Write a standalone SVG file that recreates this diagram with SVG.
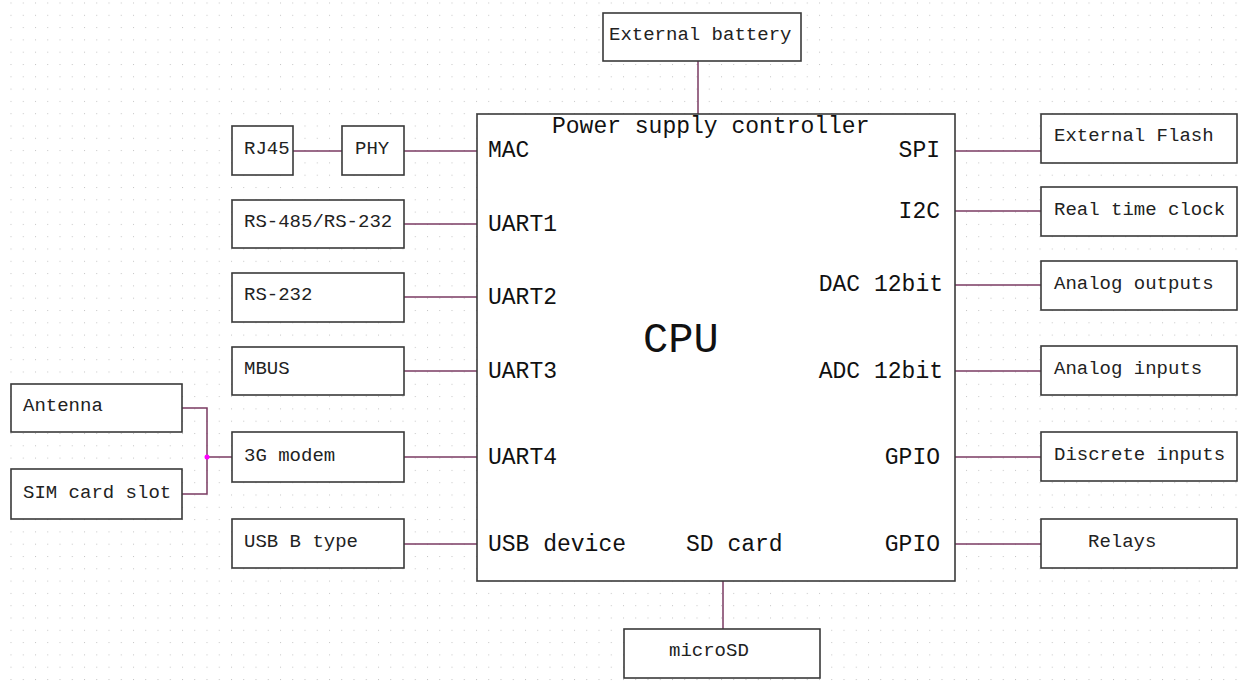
<svg xmlns="http://www.w3.org/2000/svg" width="1242" height="681" viewBox="0 0 1242 681">
<style>
.box{fill:#fff;stroke:#3a3a3a;stroke-width:1.6}
.t{font-family:"Liberation Mono","Courier New",monospace;font-size:19px;fill:#222}
.c{font-family:"Liberation Mono","Courier New",monospace;font-size:23px;fill:#111}
.big{font-family:"Liberation Mono","Courier New",monospace;font-size:42px;fill:#111}
.w{fill:none;stroke:#7a3a62;stroke-width:1.5}
</style>
<defs>
<pattern id="grid" x="10.5" y="2.5" width="12.25" height="12.3" patternUnits="userSpaceOnUse">
<rect width="1" height="1" fill="#c4c4c4"/>
</pattern>
</defs>
<rect width="1242" height="681" fill="#fff"/>
<rect width="1242" height="681" fill="url(#grid)"/>
<g id="connectors">
<path class="w" d="M698 61V114"/>
<path class="w" d="M723 581V629"/>
<path class="w" d="M293 151H342"/>
<path class="w" d="M404 151H477"/>
<path class="w" d="M404 224H477"/>
<path class="w" d="M404 297H477"/>
<path class="w" d="M404 371H477"/>
<path class="w" d="M404 457H477"/>
<path class="w" d="M404 544H477"/>
<path class="w" d="M182 408H207V494H182"/>
<path class="w" d="M207 457H232"/>
<circle cx="207" cy="457" r="2.5" fill="#ff00ff"/>
<path class="w" d="M955 151H1041"/>
<path class="w" d="M955 211H1041"/>
<path class="w" d="M955 285H1041"/>
<path class="w" d="M955 371H1041"/>
<path class="w" d="M955 457H1041"/>
<path class="w" d="M955 544H1041"/>
</g>
<g id="cpu">
<rect class="box" x="477" y="114" width="478" height="467"/>
<text class="c" x="552" y="133">Power supply controller</text>
<text class="c" x="488" y="157">MAC</text>
<text class="c" x="488" y="231">UART1</text>
<text class="c" x="488" y="304">UART2</text>
<text class="c" x="488" y="378">UART3</text>
<text class="c" x="488" y="464">UART4</text>
<text class="c" x="488" y="551">USB device</text>
<text class="c" x="686" y="551">SD card</text>
<text class="c" x="940" y="157" text-anchor="end">SPI</text>
<text class="c" x="940" y="218" text-anchor="end">I2C</text>
<text class="c" x="943" y="291" text-anchor="end">DAC 12bit</text>
<text class="c" x="943" y="378" text-anchor="end">ADC 12bit</text>
<text class="c" x="940" y="464" text-anchor="end">GPIO</text>
<text class="c" x="940" y="551" text-anchor="end">GPIO</text>
<text class="big" x="643" y="352">CPU</text>
</g>
<g id="ext-battery"><rect class="box" x="603" y="13" width="198" height="48"/><text class="t" x="609" y="40">External battery</text></g>
<g id="microsd"><rect class="box" x="624" y="629" width="196" height="49"/><text class="t" x="669" y="656">microSD</text></g>
<g id="rj45"><rect class="box" x="232" y="126" width="61" height="49"/><text class="t" x="244" y="154">RJ45</text></g>
<g id="phy"><rect class="box" x="342" y="126" width="62" height="49"/><text class="t" x="355" y="154">PHY</text></g>
<g id="rs485"><rect class="box" x="232" y="200" width="172" height="48"/><text class="t" x="244" y="227">RS-485/RS-232</text></g>
<g id="rs232"><rect class="box" x="232" y="273" width="172" height="49"/><text class="t" x="244" y="300">RS-232</text></g>
<g id="mbus"><rect class="box" x="232" y="347" width="172" height="48"/><text class="t" x="244" y="374">MBUS</text></g>
<g id="modem"><rect class="box" x="232" y="432" width="172" height="50"/><text class="t" x="244" y="461">3G modem</text></g>
<g id="usbb"><rect class="box" x="232" y="519" width="172" height="49"/><text class="t" x="244" y="547">USB B type</text></g>
<g id="antenna"><rect class="box" x="11" y="384" width="171" height="48"/><text class="t" x="23" y="411">Antenna</text></g>
<g id="sim"><rect class="box" x="11" y="469" width="171" height="50"/><text class="t" x="23" y="498">SIM card slot</text></g>
<g id="flash"><rect class="box" x="1041" y="114" width="196" height="49"/><text class="t" x="1054" y="141">External Flash</text></g>
<g id="rtc"><rect class="box" x="1041" y="187" width="196" height="49"/><text class="t" x="1054" y="215">Real time clock</text></g>
<g id="aout"><rect class="box" x="1041" y="261" width="196" height="49"/><text class="t" x="1054" y="289">Analog outputs</text></g>
<g id="ain"><rect class="box" x="1041" y="346" width="196" height="49"/><text class="t" x="1054" y="374">Analog inputs</text></g>
<g id="din"><rect class="box" x="1041" y="432" width="196" height="49"/><text class="t" x="1054" y="460">Discrete inputs</text></g>
<g id="relays"><rect class="box" x="1041" y="519" width="196" height="49"/><text class="t" x="1088" y="547">Relays</text></g>
</svg>
